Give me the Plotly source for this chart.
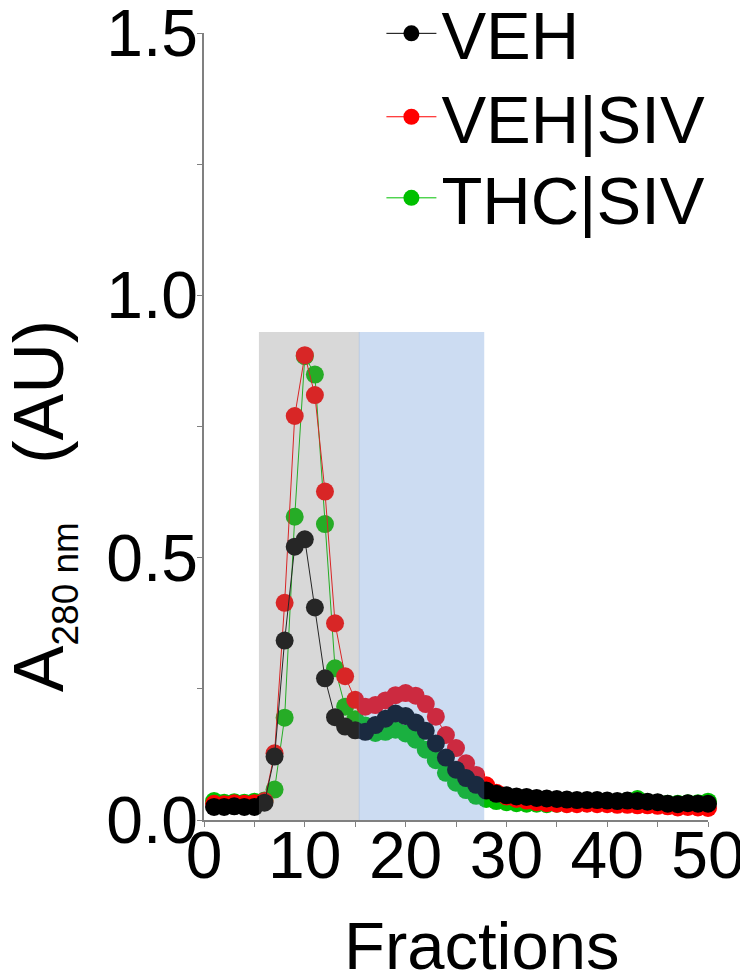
import plotly.graph_objects as go

fractions = list(range(1, 51))

veh = [0.025, 0.025, 0.026, 0.025, 0.025, 0.033, 0.121, 0.342, 0.521, 0.535,
       0.405, 0.270, 0.196, 0.178, 0.171, 0.168, 0.181, 0.193, 0.203, 0.198,
       0.186, 0.170, 0.146, 0.119, 0.096, 0.080, 0.067, 0.056, 0.050, 0.047,
       0.045, 0.044, 0.042, 0.041, 0.040, 0.039, 0.038, 0.038, 0.038, 0.037,
       0.036, 0.037, 0.036, 0.035, 0.034, 0.031, 0.030, 0.032, 0.031, 0.031]

veh_siv = [0.031, 0.030, 0.032, 0.031, 0.032, 0.036, 0.127, 0.414, 0.770, 0.886,
           0.810, 0.626, 0.375, 0.274, 0.229, 0.216, 0.219, 0.228, 0.238, 0.242,
           0.237, 0.221, 0.197, 0.162, 0.137, 0.108, 0.086, 0.066, 0.052, 0.045,
           0.040, 0.037, 0.034, 0.032, 0.031, 0.030, 0.030, 0.031, 0.030, 0.030,
           0.029, 0.029, 0.028, 0.028, 0.027, 0.026, 0.024, 0.025, 0.024, 0.023]

thc_siv = [0.036, 0.033, 0.034, 0.033, 0.035, 0.037, 0.058, 0.195, 0.578, 0.884,
           0.849, 0.564, 0.289, 0.216, 0.192, 0.180, 0.166, 0.168, 0.172, 0.165,
           0.153, 0.134, 0.114, 0.090, 0.071, 0.057, 0.046, 0.040, 0.036, 0.034,
           0.032, 0.031, 0.031, 0.030, 0.031, 0.031, 0.032, 0.032, 0.033, 0.033,
           0.034, 0.036, 0.040, 0.034, 0.033, 0.031, 0.031, 0.032, 0.032, 0.035]

series_names = ["VEH", "VEH|SIV", "THC|SIV"]
series_colors = ["#000000", "#ff0000", "#00c000"]

x_ticks = [0, 10, 20, 30, 40, 50]
y_ticks = [0, 0.5, 1.0, 1.5]

# shaded fraction windows (x start, x end) and height
peak_window = (5.45, 15.42)
mid_window = (15.36, 27.8)
window_top = 0.93

FONT = "Liberation Sans, Arial, sans-serif"

fig = go.Figure()
# draw order: green, red, black (black on top)
order = [2, 1, 0]
legend_ids = ["legend", "legend2", "legend3"]
data = [veh, veh_siv, thc_siv]
for i in order:
    fig.add_trace(go.Scatter(
        x=fractions, y=data[i], name=series_names[i], mode="lines+markers",
        line=dict(color=series_colors[i], width=1),
        marker=dict(color=series_colors[i], size=18),
        cliponaxis=False, legend=legend_ids[i], showlegend=True,
    ))

fig.add_shape(type="rect", xref="x", yref="y", x0=peak_window[0], x1=peak_window[1],
              y0=0, y1=window_top, fillcolor="rgb(125,125,125)", opacity=0.3,
              line=dict(width=0), layer="above")
fig.add_shape(type="rect", xref="x", yref="y", x0=mid_window[0], x1=mid_window[1],
              y0=0, y1=window_top, fillcolor="rgb(87,140,213)", opacity=0.3,
              line=dict(width=0), layer="above")

leg_common = dict(x=0.352, xanchor="left", yanchor="middle",
                  font=dict(family=FONT, size=67, color="black"),
                  bgcolor="rgba(0,0,0,0)", itemwidth=50)
axis_common = dict(ticks="outside", ticklen=5, tickwidth=1, tickcolor="#808080",
                   showline=True, linecolor="#808080", linewidth=1.5,
                   showgrid=False, zeroline=False, automargin=False,
                   ticklabeloverflow="allow",
                   tickfont=dict(family=FONT, size=66, color="black"))
fig.update_layout(
    width=740, height=963,
    margin=dict(l=196, r=40, t=25, b=151, autoexpand=False),
    paper_bgcolor="white", plot_bgcolor="white",
    font=dict(family=FONT, color="black"),
    legend=dict(y=0.999, **leg_common),
    legend2=dict(y=0.893, **leg_common),
    legend3=dict(y=0.790, **leg_common),
    xaxis=dict(range=[0, 50], tickvals=x_ticks, ticklabelstandoff=-28,
               minor=dict(dtick=5, tick0=0, ticks="outside", ticklen=5, tickcolor="#808080"),
               **axis_common),
    yaxis=dict(range=[0, 1.5], tickvals=y_ticks, tickformat=".1f", ticklabelstandoff=-14,
               minor=dict(dtick=0.25, tick0=0, ticks="outside", ticklen=5, tickcolor="#808080"),
               **axis_common),
    annotations=[
        dict(text="Fractions", xref="paper", yref="paper", x=0.552, y=-0.1595,
             xanchor="center", yanchor="middle", showarrow=False,
             font=dict(family=FONT, size=67, color="black")),
        dict(text='A<sub><span style="font-size:37px">280 nm</span></sub>   (AU)',
             xref="paper", yref="paper", x=-0.319, y=0.399, textangle=-90,
             xanchor="center", yanchor="middle", showarrow=False,
             font=dict(family=FONT, size=70, color="black")),
    ],
)

fig.write_html("out.html")
